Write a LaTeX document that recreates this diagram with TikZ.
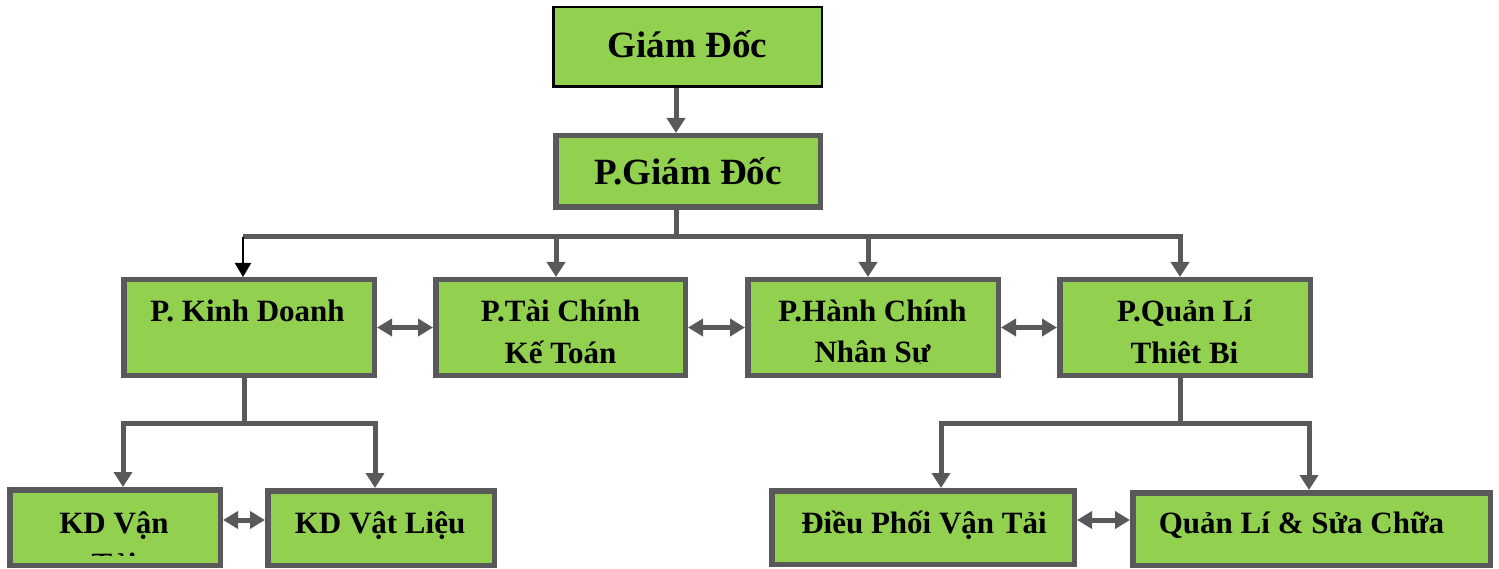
\documentclass[tikz,border=0pt]{standalone}
\usepackage{fontspec}
\setmainfont{Liberation Serif}
\usetikzlibrary{arrows.meta}
\definecolor{boxgreen}{HTML}{92D050}
\definecolor{boxgray}{HTML}{595959}
\tikzset{
  box/.style={draw=boxgray, line width=5.5pt, fill=boxgreen, inner sep=0pt},
  topbox/.style={draw=black, line width=2.5pt, fill=boxgreen, inner sep=0pt},
  big/.style={inner sep=0pt, anchor=base, font=\bfseries\fontsize{37}{44}\selectfont},
  txt/.style={inner sep=0pt, anchor=base, font=\bfseries\fontsize{31}{37}\selectfont},
  conn/.style={draw=boxgray, line width=5pt},
  arr/.style={conn, -{Triangle[width=18pt,length=15pt]}},
  blackarr/.style={draw=black, line width=2pt, -{Triangle[width=16pt,length=14pt]}},
  dbl/.style={conn, {Triangle[width=17pt,length=15pt]}-{Triangle[width=17pt,length=15pt]}},
}
\begin{document}
\begin{tikzpicture}[x=1pt,y=-1pt]
\useasboundingbox (0,0) rectangle (1499,569);
% boxes
\node[topbox, minimum width=268.5pt, minimum height=79.5pt] (gd) at (687.5,47) {};
\node[box, minimum width=264.5pt, minimum height=71.5pt] (pgd) at (688,171.5) {};
\node[box, minimum width=250.5pt, minimum height=95.5pt] (kd) at (249,327.5) {};
\node[box, minimum width=249.5pt, minimum height=95.5pt] (tc) at (560.5,327.5) {};
\node[box, minimum width=250.5pt, minimum height=95.5pt] (hc) at (873,327.5) {};
\node[box, minimum width=250.5pt, minimum height=95.5pt] (ql) at (1185,327.5) {};
\node[box, minimum width=210.5pt, minimum height=75.5pt] (kdvt) at (115,527.5) {};
\node[box, minimum width=226.5pt, minimum height=74.5pt] (kdvl) at (381,528) {};
\node[box, minimum width=302.5pt, minimum height=73.5pt] (dp) at (923,527.5) {};
\node[box, minimum width=357.5pt, minimum height=72.5pt] (qlsc) at (1311.5,529) {};
% texts
\node[big] (tgd) at (687.5,58) {Giám Đốc};
\node[big] (tpgd) at (688,185) {P.Giám Đốc};
\node[txt] (tkd) at (247.5,322) {P. Kinh Doanh};
\node[txt] (ttc1) at (560.5,322) {P.Tài Chính};
\node[txt] (ttc2) at (560.5,363) {Kế Toán};
\begin{scope}
\clip (745,277) rectangle (1001,363.5);
\node[txt] (thc1) at (872.5,322) {P.Hành Chính};
\node[txt] (thc2) at (872.5,362) {Nhân Sự};
\end{scope}
\begin{scope}
\clip (1057,277) rectangle (1313,363.5);
\node[txt] (tql1) at (1184.5,321) {P.Quản Lí};
\node[txt] (tql2) at (1184.5,363) {Thiêt Bị};
\end{scope}
\begin{scope}
\clip (7,487) rectangle (223,555);
\node[txt] (tkdvt1) at (114,533) {KD Vận};
\node[txt] (tkdvt2) at (114,574) {Tải};
\end{scope}
\node[txt] (tkdvl) at (380,533) {KD Vật Liệu};
\node[txt] (tdp) at (924,533) {Điều Phối Vận Tải};
\node[txt] (tqlsc) at (1301.5,533) {Quản Lí \& Sửa Chữa};
% connector coordinates
\coordinate (bus) at (676,237);
\coordinate (a1) at (243,237);
\coordinate (a2) at (556,237);
\coordinate (a3) at (868,237);
\coordinate (a4) at (1180,237);
\coordinate (b0) at (244,423);
\coordinate (b1) at (123,423);
\coordinate (b2) at (375,423);
\coordinate (c0) at (1180,423);
\coordinate (c1) at (941,423);
\coordinate (c2) at (1309,423);
% connectors
\draw[arr] (gd.south -| bus) -- (pgd.north -| bus);
\draw[conn] (pgd.south -| bus) -- (bus);
\draw[arr] (a1) -- (a4) -- (a4 |- ql.north);
\draw[blackarr] (a1) -- (a1 |- kd.north);
\draw[arr] (a2) -- (a2 |- tc.north);
\draw[arr] (a3) -- (a3 |- hc.north);
\draw[dbl] (kd.east) -- (tc.west);
\draw[dbl] (tc.east) -- (hc.west);
\draw[dbl] (hc.east) -- (ql.west);
\draw[conn] (kd.south -| b0) -- (b0);
\draw[arr] (b0) -- (b1) -- (b1 |- kdvt.north);
\draw[arr] (b0) -- (b2) -- (b2 |- kdvl.north);
\draw[conn] (ql.south -| c0) -- (c0);
\draw[arr] (c0) -- (c1) -- (c1 |- dp.north);
\draw[arr] (c0) -- (c2) -- (c2 |- qlsc.north);
\draw[dbl] ([yshift=7.5pt]kdvt.east) -- ([yshift=8pt]kdvl.west);
\draw[dbl] ([yshift=7.5pt]dp.east) -- ([yshift=9pt]qlsc.west);
\end{tikzpicture}
\end{document}
